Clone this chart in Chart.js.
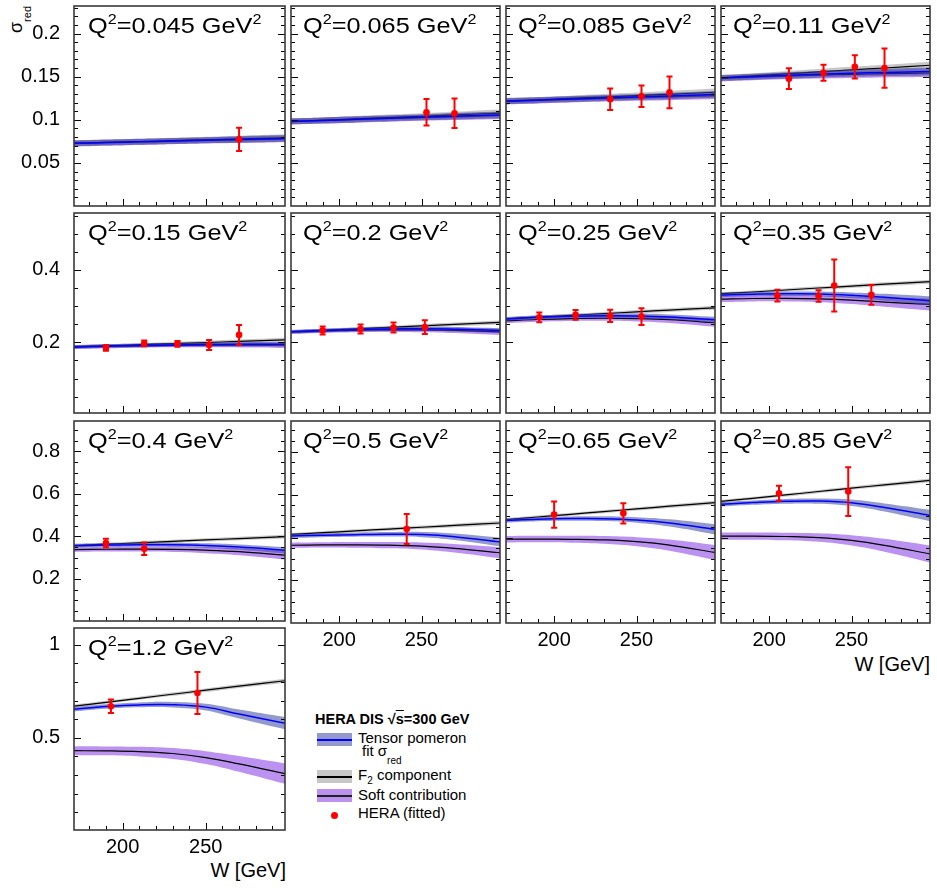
<!DOCTYPE html>
<html lang="en">
<head>
<meta charset="UTF-8">
<title>Tensor pomeron fit, HERA sigma_red vs W</title>
<script src="https://cdn.jsdelivr.net/npm/chart.js"></script>
<style>
    body { margin: 0; background: #fff; font-family: "Liberation Sans", Arial, sans-serif; color: #000; }
    #page { position: relative; width: 937px; height: 888px; overflow: hidden; }
    #page canvas { position: absolute; }
    .q2 { position: absolute; font-size: 22px; line-height: 22px; white-space: nowrap; transform-origin: 0 0; transform: scaleX(1.15); }
    .q2 sup { font-size: 14px; vertical-align: 9px; line-height: 0; }
    .wlabel { position: absolute; font-size: 20px; line-height: 20px; white-space: nowrap; text-align: right; width: 120px; }
    #ytitle { position: absolute; left: 7px; top: 33px; font-size: 18px; line-height: 18px; white-space: nowrap; transform-origin: 0 0; transform: rotate(-90deg); }
    #ytitle sub { font-size: 11px; vertical-align: -9px; line-height: 0; }
    .leg { position: absolute; font-size: 15px; line-height: 15px; white-space: nowrap; }
    .leg sub { font-size: 10px; vertical-align: -8px; line-height: 0; }
    .leg .s2 { font-size: 10px; vertical-align: -4px; line-height: 0; }
    .legtitle { position: absolute; left: 315px; top: 712px; font-size: 14.5px; line-height: 14.5px; font-weight: bold; white-space: nowrap; }
    .swatch { position: absolute; left: 317px; width: 35px; height: 13px; }
    .swatch div { position: absolute; left: 0; right: 0; top: 6px; height: 2px; }
    .dot { position: absolute; left: 331px; top: 812px; width: 7px; height: 7px; border-radius: 50%; background: #f00; }
</style>
</head>
<body>
<div id="page">
    <div id="ytitle">σ<sub>red</sub></div>
    <div class="wlabel" style="left: 810px; top: 654px;">W [GeV]</div>
    <div class="wlabel" style="left: 166px; top: 860px;">W [GeV]</div>

    <div class="legtitle">HERA DIS √<span style="text-decoration: overline;">s</span>=300 GeV</div>
    <div class="swatch" style="top: 733px; background: rgba(60,70,160,0.55);"><div style="background: #0000ff;"></div></div>
    <div class="leg" style="left: 358px; top: 730px;">Tensor pomeron</div>
    <div class="leg" style="left: 362px; top: 743px;">fit σ<sub>red</sub></div>
    <div class="swatch" style="top: 770px; background: rgba(130,130,130,0.45);"><div style="background: #000;"></div></div>
    <div class="leg" style="left: 358px; top: 767px;">F<span class="s2">2</span> component</div>
    <div class="swatch" style="top: 789px; background: rgba(160,100,235,0.7);"><div style="background: #222;"></div></div>
    <div class="leg" style="left: 358px; top: 787px;">Soft contribution</div>
    <div class="dot"></div>
    <div class="leg" style="left: 358px; top: 805px;">HERA (fitted)</div>
</div>

<script>
    const wGrid = [170, 190, 210, 230, 250, 270, 298];
    const q2Labels = ['0.045', '0.065', '0.085', '0.11', '0.15', '0.2', '0.25', '0.35', '0.4', '0.5', '0.65', '0.85', '1.2'];

    // Tensor pomeron fit sigma_red (blue) and half width of its band
    const totalFit = [
        [0.0727, 0.0736, 0.0745, 0.0754, 0.0763, 0.0772, 0.0784],
        [0.0981, 0.0993, 0.1005, 0.1017, 0.1029, 0.1041, 0.1057],
        [0.1216, 0.1228, 0.1240, 0.1252, 0.1264, 0.1276, 0.1295],
        [0.1485, 0.1500, 0.1515, 0.1528, 0.1540, 0.1550, 0.1560],
        [0.1873, 0.1895, 0.1915, 0.1930, 0.1940, 0.1945, 0.1946],
        [0.2290, 0.2325, 0.2350, 0.2368, 0.2372, 0.2362, 0.2324],
        [0.264, 0.269, 0.272, 0.2735, 0.273, 0.270, 0.262],
        [0.3306, 0.333, 0.3338, 0.3335, 0.330, 0.3245, 0.3144],
        [0.356, 0.359, 0.361, 0.3605, 0.357, 0.350, 0.335],
        [0.407, 0.411, 0.4135, 0.415, 0.414, 0.404, 0.379],
        [0.479, 0.4855, 0.4885, 0.488, 0.482, 0.468, 0.438],
        [0.555, 0.563, 0.569, 0.570, 0.562, 0.540, 0.502],
        [0.653, 0.668, 0.677, 0.678, 0.665, 0.628, 0.578]
    ];
    const totalBand = [
        [0.0035, 0.0035, 0.0035, 0.0035, 0.0035, 0.0038, 0.004],
        [0.0035, 0.0035, 0.0035, 0.0035, 0.0035, 0.0038, 0.004],
        [0.0035, 0.0035, 0.0035, 0.0035, 0.0035, 0.0038, 0.004],
        [0.0035, 0.0035, 0.0037, 0.0039, 0.0041, 0.0043, 0.0046],
        [0.005, 0.005, 0.005, 0.0052, 0.0055, 0.0058, 0.0062],
        [0.005, 0.005, 0.0052, 0.0055, 0.0058, 0.0062, 0.0068],
        [0.0055, 0.0055, 0.0058, 0.006, 0.0065, 0.0072, 0.0085],
        [0.006, 0.006, 0.0062, 0.0068, 0.0078, 0.0095, 0.0125],
        [0.009, 0.009, 0.0095, 0.010, 0.011, 0.0125, 0.015],
        [0.009, 0.009, 0.0095, 0.0105, 0.012, 0.015, 0.02],
        [0.009, 0.009, 0.010, 0.011, 0.013, 0.017, 0.024],
        [0.010, 0.010, 0.011, 0.012, 0.015, 0.019, 0.027],
        [0.012, 0.012, 0.013, 0.015, 0.018, 0.024, 0.033]
    ];

    // F2 component (black line, grey band)
    const f2Comp = [
        [0.0728, 0.0738, 0.0748, 0.0758, 0.0768, 0.0778, 0.0792],
        [0.0982, 0.0996, 0.1011, 0.1026, 0.1041, 0.1056, 0.1078],
        [0.1218, 0.1232, 0.1248, 0.1264, 0.1280, 0.1296, 0.1320],
        [0.1487, 0.1509, 0.1532, 0.1555, 0.1578, 0.1601, 0.1633],
        [0.1875, 0.1905, 0.1935, 0.1965, 0.1995, 0.2025, 0.2070],
        [0.2295, 0.2333, 0.2373, 0.2414, 0.2454, 0.2495, 0.2550],
        [0.265, 0.2696, 0.2745, 0.2793, 0.2842, 0.289, 0.2955],
        [0.334, 0.339, 0.3445, 0.350, 0.355, 0.3605, 0.3676],
        [0.357, 0.3633, 0.370, 0.3767, 0.3833, 0.390, 0.399],
        [0.4147, 0.4227, 0.4312, 0.4397, 0.4481, 0.4566, 0.468],
        [0.4837, 0.4957, 0.5083, 0.5209, 0.5335, 0.5461, 0.563],
        [0.568, 0.583, 0.5985, 0.6145, 0.630, 0.6455, 0.667],
        [0.670, 0.6907, 0.7124, 0.7342, 0.7559, 0.7777, 0.807]
    ];
    const f2Band = [
        [0.003, 0.003, 0.0032, 0.0034, 0.0036, 0.0038, 0.0042],
        [0.003, 0.003, 0.0032, 0.0034, 0.0036, 0.0038, 0.0042],
        [0.003, 0.003, 0.0032, 0.0034, 0.0036, 0.0038, 0.0042],
        [0.003, 0.003, 0.0032, 0.0034, 0.0036, 0.0038, 0.0042],
        [0.004, 0.004, 0.0042, 0.0045, 0.0048, 0.0051, 0.0056],
        [0.004, 0.004, 0.0042, 0.0045, 0.0048, 0.0051, 0.0056],
        [0.004, 0.004, 0.0042, 0.0045, 0.0048, 0.0051, 0.0056],
        [0.004, 0.004, 0.0042, 0.0045, 0.0048, 0.0051, 0.0056],
        [0.007, 0.007, 0.0072, 0.0075, 0.0078, 0.0082, 0.0088],
        [0.007, 0.007, 0.0072, 0.0075, 0.0078, 0.0082, 0.0088],
        [0.007, 0.007, 0.0072, 0.0075, 0.0078, 0.0082, 0.0088],
        [0.007, 0.007, 0.0072, 0.0075, 0.0078, 0.0082, 0.0088],
        [0.008, 0.008, 0.0083, 0.0087, 0.009, 0.0095, 0.0102]
    ];

    // Soft contribution (black line, purple band)
    const softComp = [
        [0.0725, 0.0734, 0.0743, 0.0752, 0.0760, 0.0768, 0.0779],
        [0.0979, 0.0991, 0.1002, 0.1013, 0.1024, 0.1035, 0.1050],
        [0.1213, 0.1224, 0.1235, 0.1246, 0.1256, 0.1266, 0.1280],
        [0.1480, 0.1494, 0.1507, 0.1518, 0.1527, 0.1535, 0.1543],
        [0.1868, 0.1888, 0.1905, 0.1917, 0.1924, 0.1926, 0.1922],
        [0.2282, 0.2312, 0.2333, 0.2345, 0.2344, 0.2330, 0.2290],
        [0.259, 0.263, 0.2655, 0.2665, 0.2655, 0.2625, 0.254],
        [0.319, 0.321, 0.3215, 0.320, 0.3165, 0.311, 0.3045],
        [0.338, 0.3395, 0.340, 0.339, 0.335, 0.328, 0.312],
        [0.364, 0.366, 0.366, 0.3645, 0.3605, 0.350, 0.329],
        [0.392, 0.393, 0.392, 0.389, 0.381, 0.365, 0.330],
        [0.407, 0.407, 0.405, 0.400, 0.387, 0.364, 0.323],
        [0.431, 0.430, 0.426, 0.416, 0.394, 0.360, 0.307]
    ];
    const softBand = [
        [0.0035, 0.0035, 0.0035, 0.0035, 0.0035, 0.0038, 0.004],
        [0.0035, 0.0035, 0.0035, 0.0035, 0.0035, 0.0038, 0.004],
        [0.0035, 0.0035, 0.0035, 0.0035, 0.0035, 0.0038, 0.004],
        [0.0035, 0.0035, 0.0037, 0.0039, 0.0041, 0.0043, 0.0046],
        [0.005, 0.005, 0.0052, 0.0055, 0.006, 0.0066, 0.0075],
        [0.005, 0.0052, 0.0055, 0.006, 0.0066, 0.0074, 0.0088],
        [0.006, 0.006, 0.0064, 0.007, 0.0078, 0.009, 0.011],
        [0.008, 0.008, 0.0085, 0.0092, 0.0105, 0.0125, 0.0165],
        [0.011, 0.011, 0.0115, 0.0125, 0.014, 0.0165, 0.021],
        [0.012, 0.012, 0.013, 0.0145, 0.0165, 0.020, 0.026],
        [0.015, 0.015, 0.016, 0.018, 0.021, 0.026, 0.035],
        [0.017, 0.017, 0.018, 0.020, 0.024, 0.030, 0.040],
        [0.024, 0.024, 0.026, 0.029, 0.034, 0.042, 0.055]
    ];

    // HERA points used in the fit
    const heraW = [
        [270], [253, 270], [234, 253, 270], [212, 233, 252, 270],
        [190, 213, 233, 252, 270], [190, 213, 233, 252], [191, 213, 234, 253], [205, 230, 239.5, 262],
        [190, 213], [241], [200, 242], [206, 248],
        [193, 245]
    ];
    const heraSigma = [
        [0.0773], [0.1087, 0.1076], [0.1239, 0.1273, 0.1318], [0.1477, 0.1545, 0.1614, 0.160],
        [0.1846, 0.197, 0.196, 0.1927, 0.2206], [0.233, 0.237, 0.241, 0.242], [0.269, 0.276, 0.273, 0.271], [0.329, 0.328, 0.357, 0.331],
        [0.369, 0.342], [0.44], [0.507, 0.513], [0.606, 0.614],
        [0.670, 0.741]
    ];
    const heraErr = [
        [0.0136], [0.0153, 0.017], [0.0125, 0.0125, 0.0185], [0.012, 0.0093, 0.0136, 0.0227],
        [0.008, 0.008, 0.008, 0.0135, 0.027], [0.011, 0.0126, 0.0135, 0.019], [0.0135, 0.0135, 0.017, 0.023], [0.016, 0.016, 0.072, 0.027],
        [0.02, 0.029], [0.07], [0.061, 0.047], [0.035, 0.113],
        [0.036, 0.113]
    ];

    // axes, one entry per row of panels
    const xRange = [170.8, 297.6];
    const xMajor = [200, 250];
    const xMinorStep = 10;
    const yRange = [[0, 0.232], [0.005, 0.557], [0.002, 0.943], [0.005, 1.09]];
    const yMajor = [[0.05, 0.1, 0.15, 0.2], [0.2, 0.4], [0.2, 0.4, 0.6, 0.8], [0.5, 1]];
    const yTickText = [['0.05', '0.1', '0.15', '0.2'], ['0.2', '0.4'], ['0.2', '0.4', '0.6', '0.8'], ['0.5', '1']];
    const yMinorStep = [0.01, 0.05, 0.05, 0.1];

    const colX = [74, 289, 504, 719];
    const rowY = [4, 211, 419, 626];
    const frameW = 213, frameH = 204;
    const tickFont = { family: '"Liberation Sans", Arial, sans-serif', size: 20 };

    const bandColor = { total: 'rgba(60,70,160,0.55)', f2: 'rgba(130,130,130,0.45)', soft: 'rgba(160,100,235,0.7)' };

    const framePlugin = {
        id: 'panelFrame',
        afterDatasetsDraw(chart, args, opts) {
            // error bars on the HERA points
            const { ctx, scales: { x, y } } = chart;
            const p = opts.panel;
            ctx.save();
            ctx.strokeStyle = '#ff0000';
            ctx.lineWidth = 2;
            heraW[p].forEach((w, k) => {
                const px = x.getPixelForValue(w);
                const lo = y.getPixelForValue(heraSigma[p][k] - heraErr[p][k]);
                const hi = y.getPixelForValue(heraSigma[p][k] + heraErr[p][k]);
                ctx.beginPath();
                ctx.moveTo(px, lo); ctx.lineTo(px, hi);
                ctx.moveTo(px - 3, lo); ctx.lineTo(px + 3, lo);
                ctx.moveTo(px - 3, hi); ctx.lineTo(px + 3, hi);
                ctx.stroke();
            });
            ctx.restore();
        },
        afterDraw(chart, args, opts) {
            // ROOT-like frame with inward ticks on left, right and bottom
            const { ctx, chartArea: a, scales: { x, y } } = chart;
            const r = opts.row;
            ctx.save();
            ctx.strokeStyle = '#000';
            ctx.lineWidth = 1;
            ctx.beginPath();
            for (let v = Math.ceil(yRange[r][0] / yMinorStep[r] - 1e-6) * yMinorStep[r]; v <= yRange[r][1] + 1e-9; v += yMinorStep[r]) {
                const isMajor = yMajor[r].some(m => Math.abs(m - v) < 1e-6);
                const len = isMajor ? 7 : 4;
                const py = Math.round(y.getPixelForValue(v)) + 0.5;
                if (py <= a.top + 1 || py >= a.bottom - 1) continue;
                ctx.moveTo(a.left, py); ctx.lineTo(a.left + len, py);
                ctx.moveTo(a.right, py); ctx.lineTo(a.right - len, py);
            }
            for (let v = Math.ceil(xRange[0] / xMinorStep) * xMinorStep; v <= xRange[1]; v += xMinorStep) {
                const len = xMajor.includes(v) ? 7 : 4;
                const px = Math.round(x.getPixelForValue(v)) + 0.5;
                ctx.moveTo(px, a.bottom); ctx.lineTo(px, a.bottom - len);
            }
            ctx.stroke();
            ctx.strokeStyle = '#3a3a3a';
            ctx.lineWidth = 1.6;
            ctx.strokeRect(a.left, a.top, a.right - a.left, a.bottom - a.top);
            ctx.restore();
        }
    };

    function curveSets(center, width, color, lineColor, lineWidth, baseOrder) {
        const lower = wGrid.map((w, k) => ({ x: w, y: center[k] - width[k] }));
        const upper = wGrid.map((w, k) => ({ x: w, y: center[k] + width[k] }));
        const mid = wGrid.map((w, k) => ({ x: w, y: center[k] }));
        const common = { pointRadius: 0, tension: 0.4 };
        return [
            { ...common, data: lower, borderWidth: 0, fill: false, order: baseOrder + 2 },
            { ...common, data: upper, borderWidth: 0, fill: '-1', backgroundColor: color, order: baseOrder + 1 },
            { ...common, data: mid, borderColor: lineColor, borderWidth: lineWidth, fill: false, order: baseOrder }
        ];
    }

    const page = document.getElementById('page');

    q2Labels.forEach((q2, p) => {
        const row = Math.floor(p / 4), col = p % 4;
        const showX = p >= 9;
        const showY = col === 0;
        const mT = 2, mR = 2;
        const mL = showY ? 74 : 2;
        const mB = showX ? 36 : 2;

        const canvas = document.createElement('canvas');
        canvas.width = mL + frameW + mR;
        canvas.height = mT + frameH + mB;
        canvas.style.left = (colX[col] - mL) + 'px';
        canvas.style.top = (rowY[row] - mT) + 'px';
        page.appendChild(canvas);

        const title = document.createElement('div');
        title.className = 'q2';
        title.style.left = (colX[col] + 14) + 'px';
        title.style.top = (rowY[row] + 10.5) + 'px';
        title.innerHTML = `Q<sup>2</sup>=${q2} GeV<sup>2</sup>`;
        page.appendChild(title);

        const datasets = [
            ...curveSets(softComp[p], softBand[p], bandColor.soft, '#000', 1.2, 30),
            ...curveSets(f2Comp[p], f2Band[p], bandColor.f2, '#000', 1.2, 20),
            ...curveSets(totalFit[p], totalBand[p], bandColor.total, '#0000ff', 1.5, 10),
            {
                data: heraW[p].map((w, k) => ({ x: w, y: heraSigma[p][k] })),
                showLine: false, pointRadius: 3.3, pointBackgroundColor: '#ff0000', pointBorderWidth: 0, order: 0
            }
        ];

        new Chart(canvas, {
            type: 'line',
            data: { datasets },
            options: {
                responsive: false,
                animation: false,
                devicePixelRatio: 1,
                layout: { padding: { top: mT, right: mR, left: 0, bottom: 0 } },
                plugins: {
                    legend: { display: false },
                    tooltip: { enabled: false },
                    panelFrame: { row, panel: p }
                },
                scales: {
                    x: {
                        type: 'linear', min: xRange[0], max: xRange[1],
                        grid: { display: false }, border: { display: false },
                        afterBuildTicks: s => { s.ticks = xMajor.map(v => ({ value: v })); },
                        afterFit: s => { s.height = mB; s.paddingLeft = 0; s.paddingRight = 0; },
                        ticks: { display: showX, padding: -3, font: tickFont, color: '#000', maxRotation: 0, callback: v => String(v) }
                    },
                    y: {
                        type: 'linear', min: yRange[row][0], max: yRange[row][1],
                        grid: { display: false }, border: { display: false },
                        afterBuildTicks: s => { s.ticks = yMajor[row].map(v => ({ value: v })); },
                        afterFit: s => { s.width = mL; s.paddingTop = 0; s.paddingBottom = 0; },
                        ticks: { display: showY, padding: 6, font: tickFont, color: '#000', callback: (v, i) => yTickText[row][i] }
                    }
                }
            },
            plugins: [framePlugin]
        });
    });
</script>
</body>
</html>
